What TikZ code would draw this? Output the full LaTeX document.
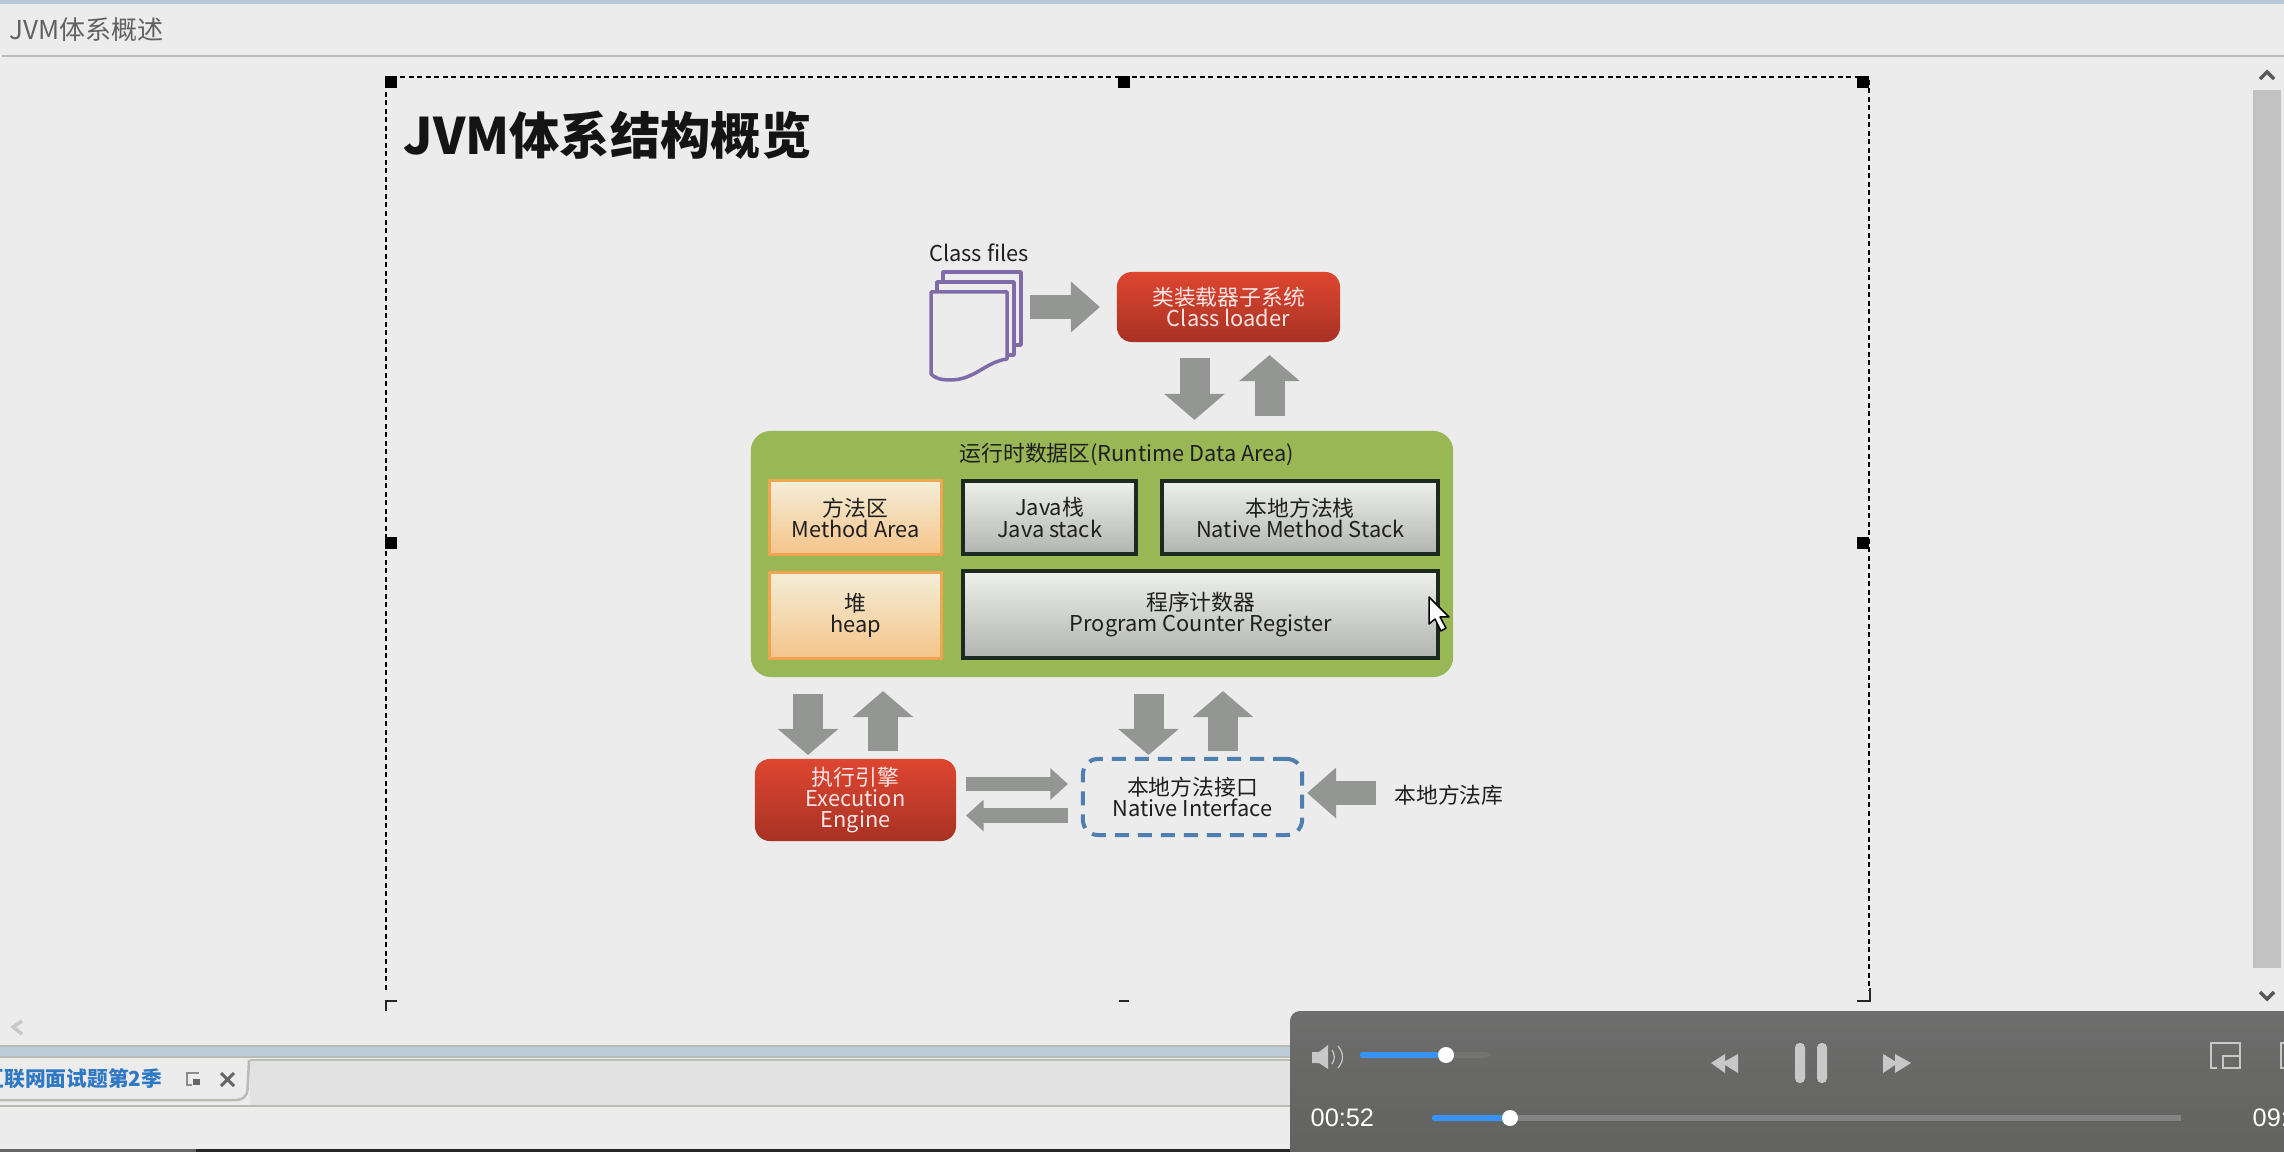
\documentclass[tikz,border=0pt]{standalone}
\usepackage{fontspec}
\setmainfont{Noto Sans CJK SC}
\newfontfamily\uifont{Liberation Sans}
\usepackage{xcolor}
\usepackage{tikz}
\usetikzlibrary{arrows.meta,positioning,calc}
\definecolor{pagebg}{HTML}{ECECEC}
\definecolor{arrgrey}{HTML}{949694}
\definecolor{rdagreen}{HTML}{9AB755}
\definecolor{cellline}{HTML}{1C2A20}
\definecolor{orangeline}{HTML}{F0A550}
\definecolor{nativeblue}{HTML}{4F7FAE}
\definecolor{filepurple}{HTML}{7F6BA8}
\definecolor{panelblue}{HTML}{3A92F5}
\definecolor{iconlight}{HTML}{C8C8C8}
\definecolor{chromeline}{HTML}{B9BBB6}
\definecolor{bandblue}{HTML}{BCCDD8}
\definecolor{topblue}{HTML}{B7C6D8}
\definecolor{tabblue}{HTML}{2F78C4}
\definecolor{paneltop}{HTML}{6D6E6D}
\definecolor{panelbot}{HTML}{5F5F5C}
\tikzset{
  cjktext/.style={font=\fontsize{6.2}{6}\selectfont, align=center, text=black!88, inner sep=0pt},
  redbox/.style={rectangle, rounded corners=1.5mm, top color={rgb,255:red,222;green,70;blue,48},
                 bottom color={rgb,255:red,168;green,50;blue,36}, cjktext, text=white!90!red, outer sep=0pt},
  orangebox/.style={rectangle, draw=orangeline, line width=0.03cm, top color={rgb,255:red,244;green,238;blue,216},
                    bottom color={rgb,255:red,245;green,196;blue,138}, cjktext, outer sep=0pt},
  greybox/.style={rectangle, draw=cellline, line width=0.04cm, top color={rgb,255:red,238;green,240;blue,236},
                  bottom color={rgb,255:red,178;green,180;blue,177}, cjktext, outer sep=0pt},
  blockarr/.style={-{Triangle[length=0.26cm, width=0.59cm]}, line width=0.3cm, draw=arrgrey},
  sidearr/.style={-{Triangle[length=0.29cm, width=0.49cm]}, line width=0.245cm, draw=arrgrey},
  thinarr/.style={-{Triangle[length=0.175cm, width=0.305cm]}, line width=0.145cm, draw=arrgrey},
  filepage/.style={draw=filepurple, line width=0.035cm, fill=pagebg, line join=round},
  chevron/.style={draw=#1, line width=0.035cm},
}
\begin{document}
\begin{tikzpicture}[x=0.01cm, y=-0.01cm, node distance=2mm]
  \useasboundingbox (0,0) rectangle (2284,1152);
  \clip (0,0) rectangle (2284,1152);
  \fill[pagebg] (0,0) rectangle (2284,1152);
  % window chrome
  \fill[topblue] (0,0) rectangle (2284,4);
  \node[font=\fontsize{7.4}{8}\selectfont, text=black!62, anchor=west, inner sep=0pt] (doctitle) at (9,30) {JVM体系概述};
  \draw[chromeline, line width=0.025cm] (2,56) -- (2284,56);
  \fill[black!18!pagebg] (2253,90) rectangle (2281,968);
  \draw[chevron=black!65] (2260,79) -- (2267,72) -- (2274,79);
  \draw[chevron=black!65] (2260,992) -- (2267,999) -- (2274,992);
  \draw[chevron=iconlight] (22,1021) -- (13,1027) -- (22,1034);
  \fill[bandblue] (0,1046) rectangle (2284,1057);
  \draw[chromeline, line width=0.02cm] (0,1046) -- (2284,1046) (0,1057) -- (2284,1057);
  \fill[black!4!pagebg] (250,1060) rectangle (2284,1106);
  \draw[chromeline, line width=0.02cm] (250,1060) -- (2284,1060) (0,1106) -- (2284,1106);
  \draw[chromeline, line width=0.025cm, rounded corners=1mm] (-5,1100) -- (247,1100) -- (249,1060);
  \begin{scope}
    \clip (0,1060) rectangle (180,1099);
    \node[font=\bfseries\fontsize{5.9}{7}\selectfont, text=tabblue, anchor=east, inner sep=0pt] (tabname) at (163,1079) {互联网面试题第2季};
  \end{scope}
  \draw[black!45, line width=0.02cm] (199,1073) -- (187,1073) -- (187,1085) -- (192,1085);
  \fill[black!60] (193,1079) rectangle (200,1085);
  \draw[black!60, line width=0.03cm] (221,1073) -- (234,1086) (234,1073) -- (221,1086);
  \fill[black!60] (0,1149) rectangle (196,1152);
  \fill[black!85] (196,1149) rectangle (2284,1152);
  % slide frame and handles
  \draw[black, line width=0.02cm, dash pattern=on 0.05cm off 0.035cm] (386,990) -- (386,77) -- (1869,77) -- (1869,990);
  \draw[black!85, line width=0.025cm] (386,1011) -- (386,1001) -- (397,1001) (1119,1001) -- (1129,1001) (1857,1001) -- (1870,1001) -- (1870,988);
  \foreach \hx/\hy in {391/82, 1124/82, 1863/82, 391/543, 1863/543}
    \fill[black] (\hx-6,\hy-6) rectangle (\hx+6,\hy+6);
  \node[font=\bfseries\fontsize{14.3}{16}\selectfont, text=black!92, anchor=west, inner sep=0pt] (slidetitle) at (403,135) {JVM体系结构概览};
  % class files
  \node[cjktext] (cfiles) at (979,253) {Class files};
  \draw[filepage] (943,272) rectangle (1021,345);
  \draw[filepage] (937,282) rectangle (1014,355);
  \draw[filepage] (931,292) -- (1007,292) -- (1007,359) .. controls (985,362) and (975,380) .. (950,380) .. controls (940,380) and (935,378) .. (931,374) -- cycle;
  \coordinate (fileout) at (1030,307);
  % class loader
  \node[redbox, minimum width=2.23cm, minimum height=0.7cm] (loader) at (1228.5,307) {类装载器子系统\\Class loader};
  % runtime data area
  \node[rectangle, rounded corners=2mm, fill=rdagreen, minimum width=7.02cm, minimum height=2.46cm, outer sep=0pt] (rda) at (1102,554) {};
  \node[cjktext] (rdatitle) at (1127,454) {运行时数据区(Runtime Data Area)};
  \node[orangebox, minimum width=1.71cm, minimum height=0.73cm] (method) at (855.5,517.5) {方法区\\Method Area};
  \node[greybox, minimum width=1.73cm, minimum height=0.73cm, right=2.2mm of method] (jstack) {Java栈\\Java stack};
  \node[greybox, minimum width=2.76cm, minimum height=0.73cm, right=2.6mm of jstack] (nstack) {本地方法栈\\Native Method Stack};
  \node[orangebox, minimum width=1.71cm, minimum height=0.86cm, below=1.8mm of method] (heap) {堆\\heap};
  \node[greybox, minimum width=4.75cm, minimum height=0.87cm, below right=1.7mm and 0mm of jstack.south west] (pcreg) {程序计数器\\Program Counter Register};
  % engine and native interface
  \node[redbox, minimum width=2.01cm, minimum height=0.82cm] (engine) at (855.5,800) {执行引擎\\Execution\\Engine};
  \node[rectangle, rounded corners=1.5mm, draw=nativeblue, line width=0.04cm, dash pattern=on 0.14cm off 0.09cm, minimum width=2.19cm, minimum height=0.76cm,
        cjktext, outer sep=0pt] (native) at (1192.5,797) {本地方法接口\\Native Interface};
  \node[cjktext] (nlib) at (1449,795) {本地方法库};
  % connectors
  \draw[sidearr] (fileout) -- ([shift={(-17,0)}]loader.west);
  \draw[blockarr] ([shift={(-34,16)}]loader.south) -- ([shift={(92.5,-11)}]rda.north);
  \draw[blockarr] ([shift={(167.5,-15)}]rda.north) -- ([shift={(41,13)}]loader.south);
  \draw[blockarr] ([shift={(-294,17)}]rda.south) -- ([shift={(-47.5,-4)}]engine.north);
  \draw[blockarr] ([shift={(27.5,-8)}]engine.north) -- ([shift={(-219,14)}]rda.south);
  \draw[blockarr] ([shift={(46.5,17)}]rda.south) -- ([shift={(-44,-4)}]native.north);
  \draw[blockarr] ([shift={(30.5,-8)}]native.north) -- ([shift={(121,14)}]rda.south);
  \draw[thinarr] ([shift={(10,-16)}]engine.east) -- ([shift={(-15,-13)}]native.west);
  \draw[thinarr] ([shift={(-15,18.5)}]native.west) -- ([shift={(10,15.5)}]engine.east);
  \draw[sidearr] ([shift={(-18,-2)}]nlib.west) -- ([shift={(5,-4)}]native.east);
  % mouse pointer
  \draw[black, fill=white, line width=0.015cm, line join=round] (1429,597) -- (1429,624) -- (1435,619) -- (1441,631) -- (1446,628) -- (1440,617) -- (1449,617) -- cycle;
  % video player panel
  \shade[top color=paneltop, bottom color=panelbot, rounded corners=1mm] (1290,1011) rectangle (2320,1190);
  \fill[iconlight] (1312,1052) -- (1319,1052) -- (1328,1045) -- (1328,1069) -- (1319,1063) -- (1312,1063) -- cycle;
  \draw[iconlight, line width=0.012cm] (1332,1050) .. controls (1335,1054) and (1335,1060) .. (1332,1064) (1338,1046) .. controls (1344,1053) and (1344,1061) .. (1338,1068);
  \fill[black!55, rounded corners=0.5mm] (1360,1052) rectangle (1490,1058);
  \fill[panelblue, rounded corners=0.25mm] (1360,1052) rectangle (1446,1058);
  \fill[white] (1446,1055) ellipse (8 and 8);
  \fill[iconlight] (1711,1063) -- (1725,1054) -- (1725,1073) -- cycle (1722,1063) -- (1738,1054) -- (1738,1073) -- cycle;
  \fill[iconlight, rounded corners=0.45mm] (1795,1043) rectangle (1805,1083) (1817,1043) rectangle (1827,1083);
  \fill[iconlight] (1883,1054) -- (1898,1063) -- (1883,1073) -- cycle (1895,1054) -- (1911,1063) -- (1895,1073) -- cycle;
  \draw[iconlight, line width=0.015cm] (2217,1068) -- (2211,1068) -- (2211,1043) -- (2240,1043) -- (2240,1056) (2223,1056) rectangle (2240,1068);
  \draw[iconlight, line width=0.015cm] (2284,1043) -- (2281,1043) -- (2281,1068) -- (2284,1068);
  \node[font=\uifont\fontsize{7.2}{8}\selectfont, text=white, anchor=west, inner sep=0pt] (curtime) at (1310,1118) {00:52};
  \fill[black!35!paneltop, rounded corners=0.25mm] (1510,1115) rectangle (2181,1121);
  \fill[white!15!paneltop] (1510,1115) rectangle (2181,1121);
  \fill[panelblue, rounded corners=0.25mm] (1432,1115) rectangle (1510,1121);
  \fill[white] (1510,1118) ellipse (8 and 8);
  \node[font=\uifont\fontsize{7.2}{8}\selectfont, text=white, anchor=west, inner sep=0pt] (endtime) at (2252,1118) {09:};
\end{tikzpicture}
\end{document}
